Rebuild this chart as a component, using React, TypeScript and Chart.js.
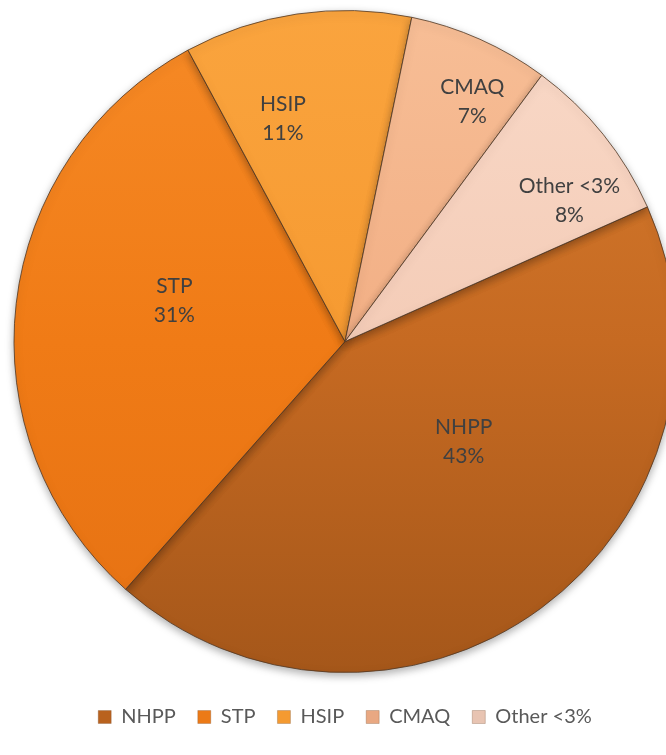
import React, { useEffect, useRef } from "react";
import { Chart, registerables } from "chart.js";

Chart.register(...registerables);

// ---- data ----
const categories = ["NHPP", "STP", "HSIP", "CMAQ", "Other <3%"];
const shares = [43.2, 30.6, 11.1, 6.9, 8.2];

// ---- styles ----
const midColors = ["#C66A22", "#F07B16", "#F69A31", "#F2AF85", "#F4CCB7"];
const topColors = ["#D67C2F", "#F68A26", "#FAA43E", "#F7BE96", "#F9D9C8"];
const bottomColors = ["#A5571A", "#E57113", "#F0902E", "#EBA279", "#EEC2AB"];
const legendColors = ["#B9621E", "#EC7A17", "#F49A31", "#E9A882", "#E8C4B2"];
const labelRadius = [0.47, 0.53, 0.7, 0.82, 0.8];
const labelShiftDeg = [-13.5, 6.8, -7.2, 3.9, 6.7];

const FONT = "Lato, 'Open Sans', sans-serif";

const piePlugin = {
  id: "pieDecor",
  beforeDatasetsDraw(chart: any) {
    const ctx = chart.ctx;
    ctx.save();
    ctx.shadowColor = "rgba(0,0,0,0.32)";
    ctx.shadowBlur = 8;
    ctx.shadowOffsetX = 0;
    ctx.shadowOffsetY = 3;
  },
  afterDatasetsDraw(chart: any) {
    const ctx = chart.ctx;
    ctx.restore();
    const meta = chart.getDatasetMeta(0);
    const data = chart.data.datasets[0].data as number[];
    ctx.save();
    ctx.fillStyle = "#404040";
    ctx.font = `21px ${FONT}`;
    ctx.textAlign = "center";
    ctx.textBaseline = "middle";
    meta.data.forEach((arc: any, i: number) => {
      const p = arc.getProps(["x", "y", "startAngle", "endAngle", "outerRadius"], true);
      const mid = (p.startAngle + p.endAngle) / 2 + (labelShiftDeg[i] * Math.PI) / 180;
      const r = p.outerRadius * labelRadius[i];
      const cx = p.x + Math.cos(mid) * r;
      const cy = p.y + Math.sin(mid) * r;
      ctx.fillText(categories[i], cx, cy - 14.5);
      ctx.fillText(`${Math.round(data[i])}%`, cx, cy + 14.5);
    });
    ctx.restore();
  },
};

function gradientFor(chart: any, i: number) {
  const area = chart.chartArea;
  if (!area) return midColors[i];
  const g = chart.ctx.createLinearGradient(0, area.top, 0, area.bottom);
  g.addColorStop(0, topColors[i]);
  g.addColorStop(0.5, midColors[i]);
  g.addColorStop(1, bottomColors[i]);
  return g;
}

export default function App() {
  const ref = useRef<HTMLCanvasElement | null>(null);

  useEffect(() => {
    if (!ref.current) return;
    Chart.defaults.font.family = FONT;
    const chart = new Chart(ref.current, {
      type: "pie",
      data: {
        labels: categories,
        datasets: [
          {
            data: shares,
            backgroundColor: (c: any) => gradientFor(c.chart, c.dataIndex),
            borderColor: "rgba(80,55,35,0.8)",
            borderWidth: 1,
            hoverOffset: 0,
          },
        ],
      },
      options: {
        responsive: false,
        animation: false,
        devicePixelRatio: 1,
        rotation: 66,
        layout: { padding: { top: 10, bottom: 18, left: 0, right: 0 } },
        plugins: {
          tooltip: { enabled: false },
          legend: {
            position: "bottom",
            title: { display: true, text: "", padding: 0, font: { size: 10 } },
            labels: {
              color: "#595959",
              font: { size: 20, family: FONT },
              boxWidth: 13,
              boxHeight: 13,
              padding: 22,
              generateLabels: () =>
                categories.map((c, i) => ({
                  text: c,
                  fillStyle: legendColors[i],
                  strokeStyle: "rgba(120,80,50,0.6)",
                  lineWidth: 0.5,
                  hidden: false,
                  index: i,
                  fontColor: "#595959",
                })),
            },
          },
        },
      },
      plugins: [piePlugin],
    });
    return () => chart.destroy();
  }, []);

  return (
    <div
      style={{
        position: "fixed",
        left: 0,
        top: 0,
        width: 666,
        height: 755,
        overflow: "hidden",
        background: "#ffffff",
      }}
    >
      <canvas ref={ref} width={690} height={755} style={{ display: "block", width: 690, height: 755 }} />
    </div>
  );
}
